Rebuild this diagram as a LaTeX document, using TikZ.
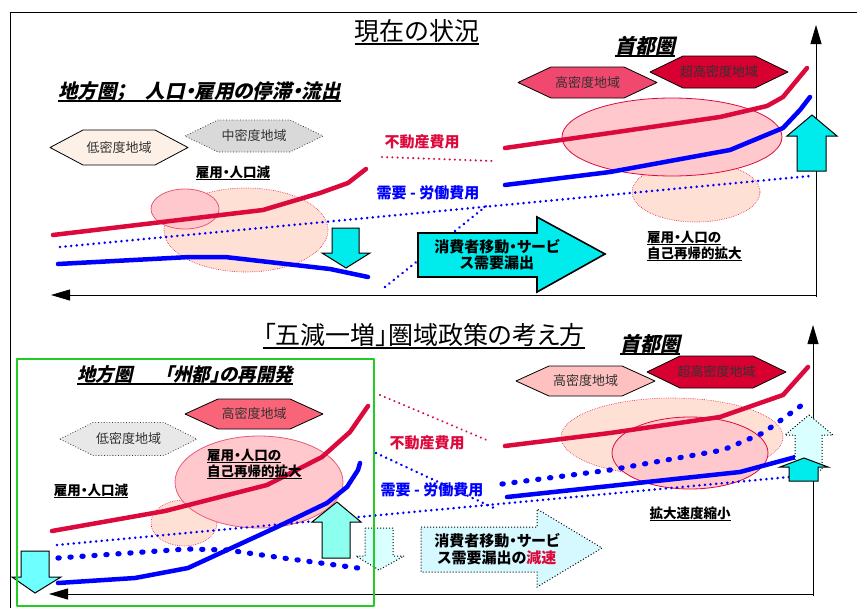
\documentclass[tikz,border=0pt]{standalone}
\usepackage{fontspec}
\setmainfont{Noto Sans CJK JP}[RawFeature={+palt}]
\newfontfamily\slfont{Noto Sans CJK JP}[RawFeature={+palt},FakeSlant=0.22]
\usetikzlibrary{arrows.meta}
\newcommand\ulx[1]{\setbox0\hbox{#1}\rlap{\rule[-0.2em]{\wd0}{0.08em}}\box0}
\newcommand\hexa[7]{%
  \draw[#6] ({#2-#4/2},#3) -- ({#2-#4/2+33},{#3-#5/2}) -- ({#2+#4/2-33},{#3-#5/2}) -- ({#2+#4/2},#3) -- ({#2+#4/2-33},{#3+#5/2}) -- ({#2-#4/2+33},{#3+#5/2}) -- cycle;
  \node[hextext] (#1) at (#2,#3) {#7};}
\definecolor{cred}{RGB}{220,10,60}
\definecolor{cblue}{RGB}{0,0,255}
\definecolor{cyanA}{RGB}{0,236,236}
\definecolor{cyanB}{RGB}{110,255,255}
\definecolor{mint}{RGB}{140,255,238}
\definecolor{palecyan}{RGB}{218,255,255}
\definecolor{palecyanB}{RGB}{214,248,255}
\definecolor{peach}{RGB}{255,224,212}
\definecolor{pinkE}{RGB}{255,200,204}
\definecolor{pinkB}{RGB}{232,90,120}
\definecolor{hexlow}{RGB}{253,240,230}
\definecolor{hexmid}{RGB}{217,217,217}
\definecolor{hexhigh}{RGB}{240,72,110}
\definecolor{hexsuper}{RGB}{216,0,48}
\definecolor{hexhighB}{RGB}{250,100,120}
\definecolor{hexhighC}{RGB}{255,192,192}
\definecolor{hexlowB}{RGB}{232,232,232}
\definecolor{gbox}{RGB}{34,204,34}
\definecolor{txtgray}{RGB}{50,50,50}
\begin{document}
\begin{tikzpicture}[x=1pt,y=-1pt,line join=round,
 frameline/.style={line width=0.9pt},
 axisline/.style={line width=0.9pt,-{Triangle[length=19pt,width=11pt]}},
 redcurve/.style={draw=cred,line width=4.5pt,line cap=round,line join=round},
 bluecurve/.style={draw=cblue,line width=4.5pt,line cap=round,line join=round},
 thindots/.style={draw=cblue,line width=2.8pt,line cap=round,dash pattern=on 0.01pt off 5.6pt},
 reddots/.style={draw=cred,line width=2.3pt,line cap=round,dash pattern=on 0.01pt off 5.2pt},
 bigdots/.style={draw=cblue,line width=5.2pt,line cap=round,dash pattern=on 1.2pt off 10.8pt},
 peachell/.style={fill=peach,draw=cred,line width=0.6pt,dash pattern=on 0.6pt off 1.2pt},
 pinkell/.style={fill=pinkE,draw=pinkB,line width=0.8pt},
 hexsolid/.style={draw=black,line width=0.8pt},
 hexdots/.style={draw=black!80,line width=0.8pt,dotted},
 hextext/.style={font=\fontsize{13}{13}\selectfont,text=txtgray,inner sep=0pt},
 blkarrow/.style={draw=black,line width=1pt,line join=miter},
 dotarrow/.style={draw=black,line width=1pt,dotted,line join=miter},
 lbl/.style={font=\bfseries\fontsize{13.5}{14}\selectfont,inner sep=0pt},
 costlbl/.style={font=\bfseries\fontsize{15}{15}\selectfont,inner sep=0pt},
 arrowtxt/.style={font=\bfseries\fontsize{15}{15}\selectfont,inner sep=0pt},
 headlbl/.style={font=\slfont\bfseries\fontsize{18.5}{19}\selectfont,inner sep=0pt},
 caplbl/.style={font=\slfont\bfseries\fontsize{20}{20}\selectfont,inner sep=0pt},
 titlelbl/.style={font=\fontsize{25}{25}\selectfont,inner sep=0pt},
 greenbox/.style={draw=gbox,line width=2pt}]
\useasboundingbox (0,0) rectangle (857,608);
% frame
\draw[frameline] (10,608) -- (10,12) -- (857,12);
% ===== top panel =====
\coordinate (h1) at (816,295); \coordinate (xl1) at (51,295);
\coordinate (o1) at (816,297); \coordinate (yt1) at (816,25);
\draw[axisline] (h1) -- (xl1);
\draw[axisline] (o1) -- (yt1);
\hexa{lowA}{119}{147.5}{138}{35}{hexsolid,fill=hexlow}{低密度地域}
\hexa{midA}{254}{136}{138}{32}{hexdots,fill=hexmid}{中密度地域}
\hexa{highA}{587.5}{82.5}{139}{31}{hexsolid,fill=hexhigh}{高密度地域}
\hexa{superA}{719}{72}{138}{32}{hexsolid,fill=hexsuper}{超高密度地域}
\draw[peachell] (246,230) ellipse[x radius=82pt,y radius=42pt];
\draw[pinkell] (185,209) ellipse[x radius=34pt,y radius=20pt];
\draw[peachell] (696,192) ellipse[x radius=64pt,y radius=30pt];
\draw[pinkell,draw=cred] (672,137) ellipse[x radius=110pt,y radius=39pt];
\draw[thindots] (60,247) -- (810,176);
\draw[thindots] (385,287) -- (490,203);
\draw[reddots] (382,157) -- (493,161);
\draw[redcurve] (53,235) -- (263,210) -- (320,193) -- (348,183) -- (366,169);
\draw[redcurve] (505,148) -- (610,133) -- (720,117) -- (767,106) -- (783,97) -- (807,68);
\draw[bluecurve] (58,264) -- (190,257) -- (225,257) -- (330,269) -- (368,277);
\draw[bluecurve] (505,185) -- (610,172) -- (730,150) -- (783,128) -- (800,110) -- (810,97);
\draw[blkarrow,fill=cyanA] (332,228) -- (359,228) -- (359,253) -- (370,253) -- (346,268) -- (322,253) -- (332,253) -- cycle;
\draw[blkarrow,fill=cyanA] (812,115) -- (837,136) -- (826,136) -- (826,171) -- (797,171) -- (797,136) -- (787,136) -- cycle;
\draw[blkarrow,line width=1.6pt,fill=cyanA] (418,233) -- (537,233) -- (537,217) -- (605,254) -- (537,292) -- (537,277) -- (418,277) -- cycle;
\node[titlelbl,anchor=base] (t1) at (417,40) {\ulx{現在の状況}};
\node[headlbl,font=\slfont\bfseries\fontsize{19.5}{20}\selectfont,anchor=base west] (hdA) at (58,98) {\ulx{地方圏；\hspace{1em}人口・雇用の停滞・流出}};
\node[caplbl,anchor=base west] (capA) at (615,53) {\ulx{首都圏}};
\node[costlbl,text=cred,anchor=base] (reA) at (422,147) {不動産費用};
\node[costlbl,text=cblue,anchor=base] (dmA) at (428,198) {需要 - 労働費用};
\node[lbl,anchor=base] (decA) at (233,177) {\ulx{雇用・人口減}};
\node[lbl,anchor=base west] (grA1) at (647,242) {\ulx{雇用・人口の}};
\node[lbl,anchor=base west] (grA2) at (647,258) {\ulx{自己再帰的拡大}};
\node[arrowtxt,anchor=base] (lkA1) at (497,252) {消費者移動・サービ};
\node[arrowtxt,anchor=base] (lkA2) at (497,268) {ス需要漏出};
% ===== bottom panel =====
\coordinate (h2) at (813,594); \coordinate (xl2) at (49,594);
\coordinate (o2) at (813,596); \coordinate (yt2) at (813,325);
\draw[axisline] (h2) -- (xl2);
\draw[axisline] (o2) -- (yt2);
\hexa{highB}{254}{414}{138}{30}{hexsolid,fill=hexhighB}{高密度地域}
\hexa{lowB}{128.5}{439}{137}{33}{hexdots,fill=hexlowB}{低密度地域}
\hexa{highC}{585.5}{381}{139}{30}{hexsolid,fill=hexhighC}{高密度地域}
\hexa{superB}{716.5}{372}{139}{32}{hexsolid,fill=hexsuper}{超高密度地域}
\draw[peachell] (184,523) ellipse[x radius=33pt,y radius=23pt];
\draw[pinkell] (259,482) ellipse[x radius=84pt,y radius=46pt];
\draw[peachell] (672,437) ellipse[x radius=111pt,y radius=39pt];
\draw[pinkell,draw=cred] (690,453) ellipse[x radius=78pt,y radius=36pt];
\draw[thindots] (57,545) -- (800,476);
\draw[thindots] (376,453) -- (494,508);
\draw[reddots] (380,395) -- (489,441);
\draw[bigdots] (58,558) -- (187,549) -- (227,550) -- (283,558) -- (358,568);
\draw[bigdots] (502,484) -- (610,470) -- (723,450) -- (763,433) -- (802,405);
\draw[redcurve] (52,531) -- (165,511) -- (267,485) -- (322,457) -- (350,432) -- (368,406);
\draw[redcurve] (505,446) -- (610,433) -- (720,417) -- (783,395) -- (808,367);
\draw[bluecurve] (58,583) -- (135,578) -- (188,568) -- (277,527) -- (327,503) -- (347,487) -- (358,470) -- (360,463);
\draw[bluecurve] (507,497) -- (740,472) -- (803,455);
\draw[blkarrow,fill=cyanB] (21,551) -- (49,551) -- (49,577) -- (61,577) -- (35,593) -- (12,577) -- (21,577) -- cycle;
\draw[blkarrow,fill=mint] (337,502) -- (361,522) -- (350,522) -- (350,558) -- (322,558) -- (322,522) -- (312,522) -- cycle;
\draw[dotarrow,fill=palecyan] (365,528) -- (393,528) -- (393,556) -- (404,556) -- (379,570) -- (356,556) -- (365,556) -- cycle;
\draw[dotarrow,fill=palecyanB] (421,527) -- (537,527) -- (537,509) -- (602,548) -- (537,587) -- (537,572) -- (421,572) -- cycle;
\draw[dotarrow,fill=palecyan] (809,415) -- (833,435) -- (822,435) -- (822,470) -- (795,470) -- (795,435) -- (785,435) -- cycle;
\draw[blkarrow,fill=cyanA] (804,458) -- (828,467) -- (818,467) -- (818,481) -- (789,481) -- (789,467) -- (780,467) -- cycle;
\node[titlelbl,anchor=base] (t2) at (424,344) {\ulx{「五減一増」圏域政策の考え方}};
\node[headlbl,anchor=base west] (hdB) at (77,381) {\ulx{地方圏\hspace{1.7em}「州都」の再開発}};
\node[caplbl,anchor=base west] (capB) at (620,351) {\ulx{首都圏}};
\node[costlbl,text=cred,anchor=base] (reB) at (427,448) {不動産費用};
\node[costlbl,text=cblue,anchor=base] (dmB) at (432,495) {需要 - 労働費用};
\node[lbl,anchor=base] (decB) at (91,495) {\ulx{雇用・人口減}};
\node[lbl,anchor=base west] (grB1) at (207,460) {\ulx{雇用・人口の}};
\node[lbl,anchor=base west] (grB2) at (207,476) {\ulx{自己再帰的拡大}};
\node[lbl,anchor=base] (slow) at (690,518) {\ulx{拡大速度縮小}};
\node[arrowtxt,anchor=base] (lkB1) at (497,546) {消費者移動・サービ};
\node[arrowtxt,anchor=base] (lkB2) at (497,563) {ス需要漏出の\textcolor{cred}{減速}};
\draw[greenbox] (17,359) rectangle (374,606);
\end{tikzpicture}
\end{document}
